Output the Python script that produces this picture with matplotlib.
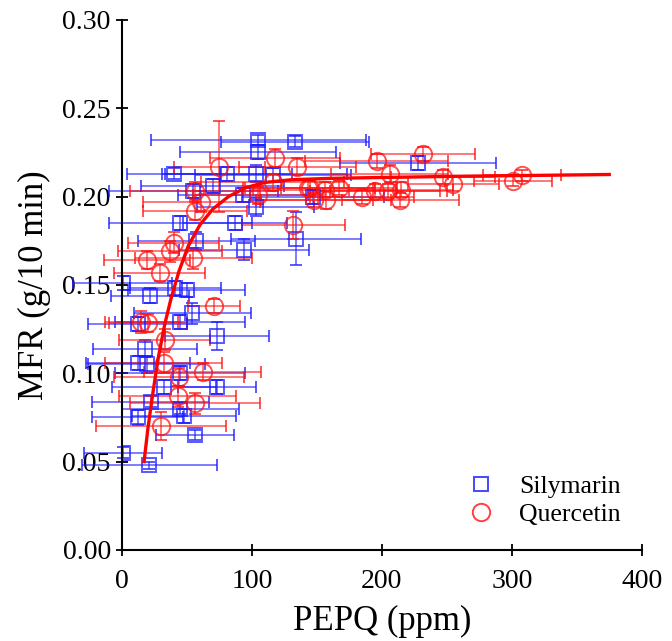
import matplotlib
matplotlib.use("Agg")
import matplotlib.pyplot as plt
from matplotlib.lines import Line2D

plt.rcParams["font.family"] = ["Liberation Serif", "DejaVu Serif"]

# --- Silymarin (blue squares) ---
sil_x = [0.5, 0.5, 21, 12, 12, 19, 12, 18, 22, 21.5, 41, 50, 54, 45, 73, 32, 73, 45,
         45, 48, 56, 40, 105, 133, 105, 103, 116, 81, 55, 93, 103, 70, 45, 87, 134,
         94, 57, 147, 228]
sil_y = [0.151, 0.055, 0.048, 0.075, 0.106, 0.105, 0.128, 0.114, 0.084, 0.144, 0.148,
         0.147, 0.134, 0.129, 0.121, 0.092, 0.092, 0.100, 0.080, 0.076, 0.065, 0.213,
         0.232, 0.231, 0.225, 0.213, 0.212, 0.213, 0.203, 0.201, 0.194, 0.206, 0.185,
         0.185, 0.176, 0.170, 0.175, 0.200, 0.219]
sil_xerr = [38, 30, 52, 35, 40, 45, 38, 40, 45, 30, 35, 45, 45, 50, 40, 40, 30, 50,
            45, 40, 30, 36, 83, 57, 60, 70, 60, 50, 65, 50, 45, 55, 55, 40, 50,
            50, 45, 55, 60]
sil_yerr = [0.004, 0.003, 0.002, 0.004, 0.004, 0.005, 0.004, 0.005, 0.003, 0.004, 0.004,
            0.004, 0.006, 0.004, 0.008, 0.004, 0.004, 0.004, 0.003, 0.004, 0.003, 0.003,
            0.003, 0.003, 0.004, 0.005, 0.004, 0.004, 0.004, 0.004, 0.005, 0.004, 0.004,
            0.004, 0.015, 0.006, 0.005, 0.004, 0.004]

# --- Quercetin (red circles) ---
que_x = [75, 118, 135, 56, 61, 56, 116, 105, 132, 40, 37, 19, 55, 29, 143, 71, 15, 20,
         33, 32, 62, 44, 43, 56, 30, 232, 196, 206, 247, 255, 308, 301, 145, 156, 148,
         157, 167, 185, 195, 205, 215, 214]
que_y = [0.217, 0.222, 0.217, 0.203, 0.197, 0.192, 0.208, 0.201, 0.184, 0.174, 0.169,
         0.164, 0.165, 0.157, 0.205, 0.138, 0.129, 0.1285, 0.119, 0.106, 0.101, 0.098,
         0.087, 0.083, 0.070, 0.224, 0.220, 0.213, 0.211, 0.207, 0.212, 0.209, 0.205,
         0.204, 0.198, 0.198, 0.205, 0.200, 0.203, 0.203, 0.204, 0.198]
que_xerr = [35, 50, 45, 50, 45, 40, 55, 50, 40, 35, 40, 33, 45, 35, 50, 20, 28, 30,
            35, 45, 45, 50, 45, 50, 50, 40, 55, 45, 40, 35, 30, 30, 50, 55, 45,
            50, 45, 40, 50, 45, 40, 45]
que_yerr = [0.026, 0.005, 0.005, 0.005, 0.006, 0.005, 0.005, 0.005, 0.008, 0.006, 0.006,
            0.005, 0.006, 0.005, 0.004, 0.004, 0.006, 0.005, 0.006, 0.006, 0.005, 0.005,
            0.006, 0.006, 0.008, 0.004, 0.004, 0.005, 0.004, 0.004, 0.003, 0.003, 0.004,
            0.004, 0.004, 0.005, 0.004, 0.004, 0.004, 0.004, 0.004, 0.004]

# --- fitted curve ---
fit_x = [17, 20, 24, 28, 33, 38, 44, 51, 60, 70, 82, 95, 110, 130, 160, 200, 260, 320, 375]
fit_y = [0.050, 0.069, 0.090, 0.109, 0.128, 0.143, 0.158, 0.172, 0.184, 0.193, 0.200,
         0.205, 0.208, 0.2095, 0.2103, 0.2108, 0.2115, 0.2120, 0.2125]

BLUE = "#1a1aff"
RED = "#ff1010"

fig = plt.figure(figsize=(6.72, 6.41), dpi=100)
ax = fig.add_axes([0.1815, 0.142, 0.7735, 0.827])

for x, y, xe, ye, m, c, ms in [
    (sil_x, sil_y, sil_xerr, sil_yerr, "s", BLUE, 10),
    (que_x, que_y, que_xerr, que_yerr, "o", RED, 12.5),
]:
    eb = ax.errorbar(x, y, xerr=xe, yerr=ye, fmt=m, ms=ms, mfc="none", mec=c, mew=1.4,
                     ecolor=c, elinewidth=1.1, capsize=4, capthick=1.1, alpha=0.72)
    for art in eb.lines[1] + eb.lines[2]:
        art.set_clip_on(False)

ax.plot(fit_x, fit_y, color="red", lw=2.4, zorder=5)

ax.set_xlim(0, 400)
ax.set_ylim(0, 0.30)
ax.set_xticks([0, 100, 200, 300, 400])
ax.set_yticks([0, 0.05, 0.10, 0.15, 0.20, 0.25, 0.30])
ax.set_yticklabels(["0.00", "0.05", "0.10", "0.15", "0.20", "0.25", "0.30"])
ax.spines["top"].set_visible(False)
ax.spines["right"].set_visible(False)
ax.spines["left"].set_linewidth(1.5)
ax.spines["bottom"].set_linewidth(1.5)
ax.tick_params(direction="inout", length=9, width=1.3, labelsize=20)
ax.tick_params(axis="x", pad=9)
ax.set_xlabel("PEPQ (ppm)", fontsize=25, labelpad=8)
ax.set_ylabel("MFR (g/10 min)", fontsize=25, labelpad=8)

handles = [
    Line2D([], [], ls="none", marker="s", ms=10, mfc="none", mec=BLUE, mew=1.4, alpha=0.8),
    Line2D([], [], ls="none", marker="o", ms=12.5, mfc="none", mec=RED, mew=1.4, alpha=0.8),
]
ax.legend(handles, ["Silymarin", "Quercetin"], loc="lower right",
          bbox_to_anchor=(0.98, 0.025), borderaxespad=0, frameon=False, fontsize=18.5,
          handletextpad=0.5, labelspacing=0.2)

fig.savefig("out.png", dpi=100)
